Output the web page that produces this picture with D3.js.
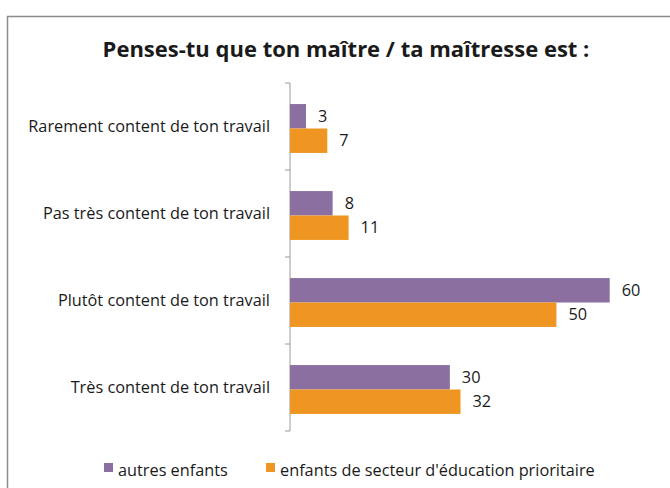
<!DOCTYPE html>
<html>
<head>
<meta charset="utf-8">
<script src="https://cdn.jsdelivr.net/npm/d3@7"></script>
<style>
  body { margin: 0; background: #fff; }
  text { font-family: "Open Sans", Lato, sans-serif; fill: #1a1a1a; }
</style>
</head>
<body>
<script>
/* data */
var categories = [
    'Rarement content de ton travail',
    'Pas très content de ton travail',
    'Plutôt content de ton travail',
    'Très content de ton travail'
]
var seriesNames = ['autres enfants', "enfants de secteur d'éducation prioritaire"]
var autres = [3, 8, 60, 30]
var prioritaire = [7, 11, 50, 32]
var title = 'Penses-tu que ton maître / ta maîtresse est :'

var colors = ['#8a6fa0', '#ee9621']
var width = 670, height = 488
var fontSize = '16.3px'

var svg = d3.select('body').append('svg')
    .attr('width', width)
    .attr('height', height)

// chart frame (runs off the right and bottom edges)
svg.append('rect')
    .attr('x', 7.5).attr('y', 16.5)
    .attr('width', 700).attr('height', 500)
    .attr('fill', 'none')
    .attr('stroke', '#8c8c8c')
    .attr('stroke-width', 1.5)

svg.append('text')
    .attr('x', 346).attr('y', 56.5)
    .attr('text-anchor', 'middle')
    .style('font-size', '22px')
    .style('font-weight', 'bold')
    .text(title)

var x = d3.scaleLinear().domain([0, 70]).range([290, 663])
var y = d3.scaleBand().domain(categories).range([83, 431])
var inner = d3.scaleBand().domain([0, 1]).range([0, y.bandwidth()]).paddingOuter(0.78)

// axis
var axis = svg.append('g').attr('transform', 'translate(290,0)')
    .call(d3.axisLeft(y).tickSize(0).tickPadding(20))
axis.select('.domain').attr('stroke', '#9a9a9a').attr('d', 'M0,' + y.range()[0] + 'V' + y.range()[1])
axis.selectAll('text')
    .style('font-size', fontSize)
    .style('font-family', '"Open Sans", sans-serif')
    .attr('fill', '#1a1a1a')
axis.selectAll('.bound').data(d3.range(categories.length + 1))
    .enter().append('line').attr('class', 'bound')
    .attr('x1', -5).attr('x2', 0)
    .attr('y1', function(i) { return y.range()[0] + i * y.step() })
    .attr('y2', function(i) { return y.range()[0] + i * y.step() })
    .attr('stroke', '#9a9a9a')

var rows = categories.map(function(c, i) {
    return { cat: c, values: [autres[i], prioritaire[i]] }
})

var group = svg.selectAll('g.row').data(rows).enter().append('g')
    .attr('class', 'row')
    .attr('transform', function(d) { return 'translate(0,' + (y(d.cat) + 2) + ')' })

group.selectAll('rect').data(function(d) { return d.values })
    .enter().append('rect')
    .attr('x', x(0))
    .attr('y', function(v, j) { return inner(j) })
    .attr('width', function(v) { return x(v) - x(0) })
    .attr('height', inner.bandwidth())
    .attr('fill', function(v, j) { return colors[j] })

group.selectAll('text.val').data(function(d) { return d.values })
    .enter().append('text').attr('class', 'val')
    .attr('x', function(v) { return x(v) + 12 })
    .attr('y', function(v, j) { return inner(j) + inner.bandwidth() / 2 })
    .attr('dy', '0.35em')
    .style('font-size', fontSize)
    .text(function(v) { return v })

// legend
var legendX = [104, 266]
var legend = svg.selectAll('g.legend').data(seriesNames).enter().append('g')
    .attr('class', 'legend')
    .attr('transform', function(d, i) { return 'translate(' + legendX[i] + ',470)' })
legend.append('rect')
    .attr('x', 0).attr('y', -7)
    .attr('width', 9).attr('height', 9)
    .attr('fill', function(d, i) { return colors[i] })
legend.append('text')
    .attr('x', 14).attr('dy', '0.35em')
    .style('font-size', fontSize)
    .text(function(d) { return d })
</script>
</body>
</html>
